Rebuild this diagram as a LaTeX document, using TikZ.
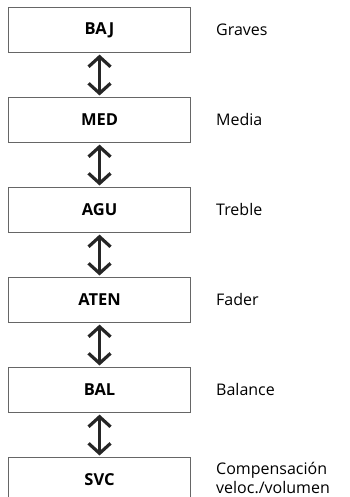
\documentclass[tikz,border=0pt]{standalone}
\usepackage{fontspec}
\setmainfont{Open Sans}
\usetikzlibrary{arrows.meta}
\begin{document}
\begin{tikzpicture}[x=1pt,y=-1pt,
  modebox/.style={draw=black!60, line width=1.1pt, minimum width=182pt, minimum height=45pt, inner sep=0pt, font=\bfseries\fontsize{16.5}{19}\selectfont, anchor=north west},
  desc/.style={anchor=west, align=left, inner sep=0pt, font=\fontsize{16}{19}\selectfont},
  link/.style={line width=3.2pt, draw=black!85, {Straight Barb[length=10pt,width=22pt,line width=3.2pt]}-{Straight Barb[length=10pt,width=22pt,line width=3.2pt]}, shorten <=1.5pt, shorten >=1.5pt}]
\useasboundingbox (0,0) rectangle (349,497);
\begin{scope}
\clip (0,0) rectangle (349,497);
\node[modebox] (baj) at (8,7) {BAJ};
\node[modebox] (med) at (8,97) {MED};
\node[modebox] (agu) at (8,187) {AGU};
\node[modebox] (aten) at (8,277) {ATEN};
\node[modebox] (bal) at (8,367) {BAL};
\node[modebox] (svc) at (8,457) {SVC};
\end{scope}
\node[desc] (l1) at (216,29.5) {Graves};
\node[desc] (l2) at (216,119.5) {Media};
\node[desc] (l3) at (216,209.5) {Treble};
\node[desc] (l4) at (216,299.5) {Fader};
\node[desc] (l5) at (216,389.5) {Balance};
\node[desc] (l6) at (216,478) {Compensación\\veloc./volumen};
\draw[link] (baj.south) -- (med.north);
\draw[link] (med.south) -- (agu.north);
\draw[link] (agu.south) -- (aten.north);
\draw[link] (aten.south) -- (bal.north);
\draw[link] (bal.south) -- (svc.north);
\end{tikzpicture}
\end{document}
